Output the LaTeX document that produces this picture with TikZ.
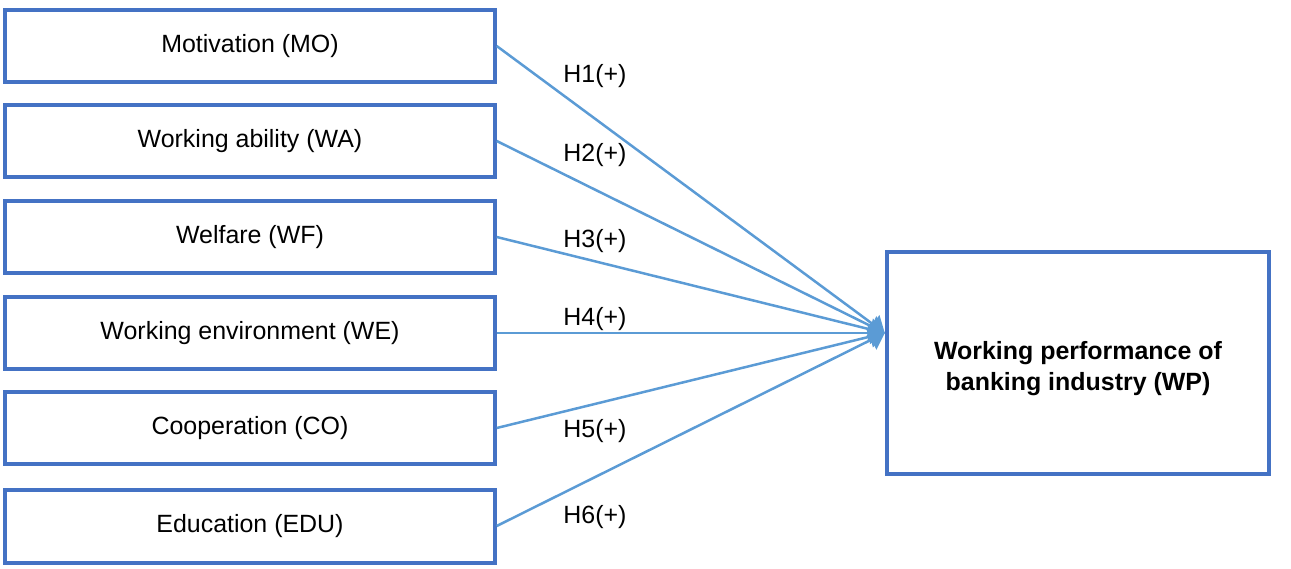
\documentclass[tikz,border=0pt]{standalone}
\usepackage{fontspec}
\setmainfont{Liberation Sans}
\usepackage{tikz}
\usetikzlibrary{arrows.meta, positioning}
\definecolor{mBoxBlue}{HTML}{4472C4}
\definecolor{mLineBlue}{HTML}{5B9BD5}

\begin{document}
\begin{tikzpicture}[x=0.02cm, y=-0.02cm,
      every node/.style={font=\fontsize{14.2}{17.6}\selectfont},
      fac/.style={draw=mBoxBlue, line width=0.08cm, minimum width=9.79cm, minimum height=1.46cm, inner sep=0pt},
      res/.style={draw=mBoxBlue, line width=0.08cm, minimum width=7.65cm, minimum height=4.43cm, inner sep=0pt},
      wpl/.style={align=center, font=\fontsize{14.2}{17.6}\selectfont\bfseries},
      hyp/.style={draw=mLineBlue, line width=0.05cm, -{Triangle[length=3mm, width=4.4mm]}},
      hl/.style={inner sep=0pt}]
    \useasboundingbox (0,0) rectangle (1291,568);
    \node[fac] (mo)  at (250,46)  {Motivation (MO)};
    \node[fac] (wa)  at (250,141) {Working ability (WA)};
    \node[fac] (wf)  at (250,237) {Welfare (WF)};
    \node[fac] (we)  at (250,333) {Working environment (WE)};
    \node[fac] (co)  at (250,428) {Cooperation (CO)};
    \node[fac] (edu) at (250,526) {Education (EDU)};
    \node[res, label={[wpl, yshift=-0.12cm]center:{Working performance of\\ banking industry (WP)}}] (wp) at (1078,363) {};
    \coordinate (tip) at (wp.west |- we.east);
    \draw[hyp] (mo.east) -- (tip);  \draw[hyp] (wa.east) -- (tip);
    \draw[hyp] (wf.east) -- (tip);  \draw[hyp] (we.east) -- (tip);
    \draw[hyp] (co.east) -- (tip);  \draw[hyp] (edu.east) -- (tip);
    \node[hl] (h1) at (595,76)  {H1(+)};
    \node[hl] (h2) at (595,155) {H2(+)};
    \node[hl] (h3) at (595,241) {H3(+)};
    \node[hl] (h4) at (595,319) {H4(+)};
    \node[hl] (h5) at (595,431) {H5(+)};
    \node[hl] (h6) at (595,517) {H6(+)};
  \end{tikzpicture}
\end{document}
